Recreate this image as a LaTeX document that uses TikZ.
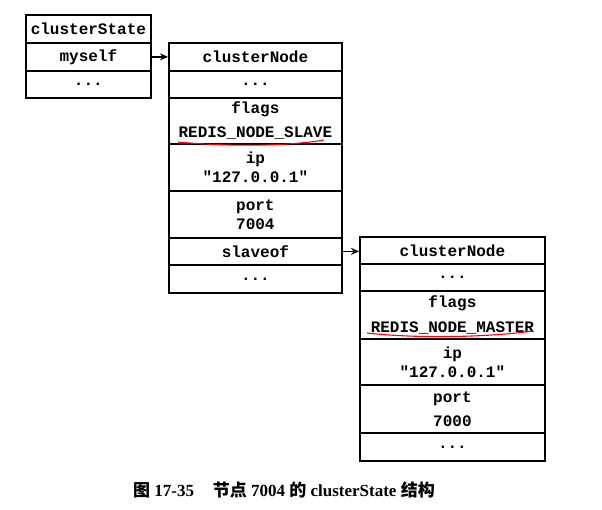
\documentclass[tikz,border=0pt]{standalone}
\usepackage{fontspec}
\setmainfont{Liberation Serif}
\newfontfamily\mono{Liberation Mono}
\newfontfamily\cjk{Noto Sans CJK SC}
\usetikzlibrary{arrows.meta}
\begin{document}
\begin{tikzpicture}[x=1pt,y=-1pt,
  cell/.style={draw, line width=1.8pt, inner sep=0pt, align=center, anchor=north west,
    font=\fontsize{16}{19}\mono\bfseries},
  csbox/.style={cell, minimum width=125pt, minimum height=#1},
  cnone/.style={cell, minimum width=173pt, minimum height=#1},
  cntwo/.style={cell, minimum width=185pt, minimum height=#1},
  ptr/.style={-{Stealth[length=8pt,width=7pt]}, line width=1.6pt},
  redline/.style={red, line width=1.1pt}]
\useasboundingbox (0,0) rectangle (602,510);
% clusterState
\node[csbox=28pt] (cs) at (25,14) {clusterState};
\node[csbox=28pt] (myself) at (25,42) {myself};
\node[csbox=27pt] (csdots) at (25,70) {...};
% clusterNode 1
\node[cnone=28pt] (na) at (168,42) {clusterNode};
\node[cnone=27pt] (nadots) at (168,70) {...};
\node[cnone=46pt] (naflags) at (168,97) {flags\\[5pt]REDIS\_NODE\_SLAVE};
\node[cnone=47pt] (naip) at (168,143) {ip\\"127.0.0.1"};
\node[cnone=47pt] (naport) at (168,190) {port\\7004};
\node[cnone=27pt] (naslave) at (168,237) {slaveof};
\node[cnone=28pt] (nadots2) at (168,264) {...};
% clusterNode 2
\node[cntwo=27pt] (nb) at (359,236) {clusterNode};
\node[cntwo=27pt] (nbdots) at (359,263) {...};
\node[cntwo=48pt] (nbflags) at (359,290) {flags\\[6pt]REDIS\_NODE\_MASTER};
\node[cntwo=46pt] (nbip) at (359,338) {ip\\"127.0.0.1"};
\node[cntwo=48pt] (nbport) at (359,384) {port\\[5pt]7000};
\node[cntwo=28pt] (nbdots2) at (359,432) {...};
% pointers
\draw[ptr] (myself.east) -- (na.west |- myself.east);
\draw[ptr] (naslave.east) -- (nb.west |- naslave.east);
% red underlines
\draw[redline] (178,142) .. controls (230,147) and (290,146) .. (324,140);
\draw[redline] (367,333) .. controls (420,339) and (490,337) .. (533,331);
% caption
\node[font=\fontsize{17}{20}\selectfont\bfseries] (cap) at (284,490)
  {{\cjk\bfseries 图} 17-35\hspace{1.1em}{\cjk\bfseries 节点} 7004 {\cjk\bfseries 的} clusterState {\cjk\bfseries 结构}};
\end{tikzpicture}
\end{document}
